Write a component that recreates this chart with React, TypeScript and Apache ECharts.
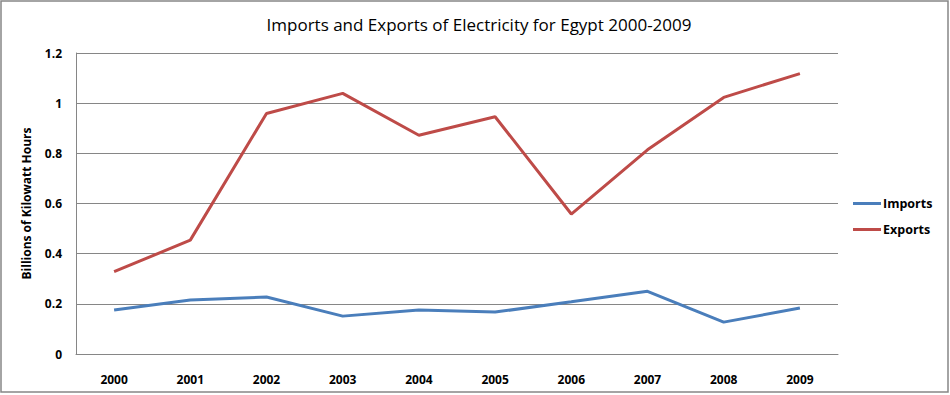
import React, { useEffect, useRef } from "react";
import * as echarts from "echarts";

const years = ["2000", "2001", "2002", "2003", "2004", "2005", "2006", "2007", "2008", "2009"];
const imports = [0.175, 0.215, 0.227, 0.151, 0.175, 0.167, 0.208, 0.25, 0.127, 0.183];
const exports_ = [0.328, 0.454, 0.959, 1.039, 0.872, 0.946, 0.558, 0.814, 1.023, 1.118];

const FONT = "'Open Sans', 'Liberation Sans', sans-serif";

export default function App() {
  const ref = useRef<HTMLDivElement>(null);
  useEffect(() => {
    if (!ref.current) return;
    const chart = echarts.init(ref.current, null, { renderer: "svg" });
    chart.setOption({
      animation: false,
      backgroundColor: "#ffffff",
      title: {
        text: "Imports and Exports of Electricity for Egypt 2000-2009",
        left: 474,
        textAlign: "center",
        top: 11,
        textStyle: { fontFamily: FONT, fontSize: 17, fontWeight: "normal", color: "#000" },
      },
      graphic: [
        {
          type: "rect",
          shape: { x: 1, y: 1, width: 947, height: 391 },
          style: { fill: "none", stroke: "#868686", lineWidth: 1.5 },
          silent: true,
        },
      ],
      legend: {
        orient: "vertical",
        left: 848,
        top: 192,
        itemWidth: 28,
        itemHeight: 3,
        itemGap: 13,
        icon: "rect",
        textStyle: { fontFamily: FONT, fontSize: 12.5, fontWeight: "bold", color: "#000", padding: [0, 0, 0, -3] },
        data: ["Imports", "Exports"],
      },
      grid: { left: 76, right: 112, top: 53, bottom: 41, containLabel: false },
      xAxis: {
        type: "category",
        data: years,
        boundaryGap: true,
        axisLine: { lineStyle: { color: "#868686", width: 1 } },
        axisTick: { show: false },
        axisLabel: { fontFamily: FONT, fontSize: 12, fontWeight: "bold", color: "#000", margin: 19 },
      },
      yAxis: {
        type: "value",
        min: 0,
        max: 1.2,
        interval: 0.2,
        name: "Billions of Kilowatt Hours",
        nameLocation: "middle",
        nameGap: 44,
        nameTextStyle: { fontFamily: FONT, fontSize: 12, fontWeight: "bold", color: "#000" },
        axisLine: { show: true, lineStyle: { color: "#868686", width: 1 } },
        axisTick: { show: false },
        splitLine: { lineStyle: { color: "#868686", width: 1 } },
        axisLabel: {
          fontFamily: FONT,
          fontSize: 12,
          fontWeight: "bold",
          color: "#000",
          margin: 14,
          formatter: (v: number) => String(parseFloat(v.toFixed(1))),
        },
      },
      series: [
        {
          name: "Imports",
          type: "line",
          data: imports,
          showSymbol: false,
          symbol: "none",
          itemStyle: { color: "#4a7ebb" },
          lineStyle: { color: "#4a7ebb", width: 3 },
        },
        {
          name: "Exports",
          type: "line",
          data: exports_,
          showSymbol: false,
          symbol: "none",
          itemStyle: { color: "#be4b48" },
          lineStyle: { color: "#be4b48", width: 3 },
        },
      ],
    });
    return () => chart.dispose();
  }, []);
  return (
    <div
      ref={ref}
      style={{ position: "fixed", left: 0, top: 0, width: 950, height: 395 }}
    />
  );
}
